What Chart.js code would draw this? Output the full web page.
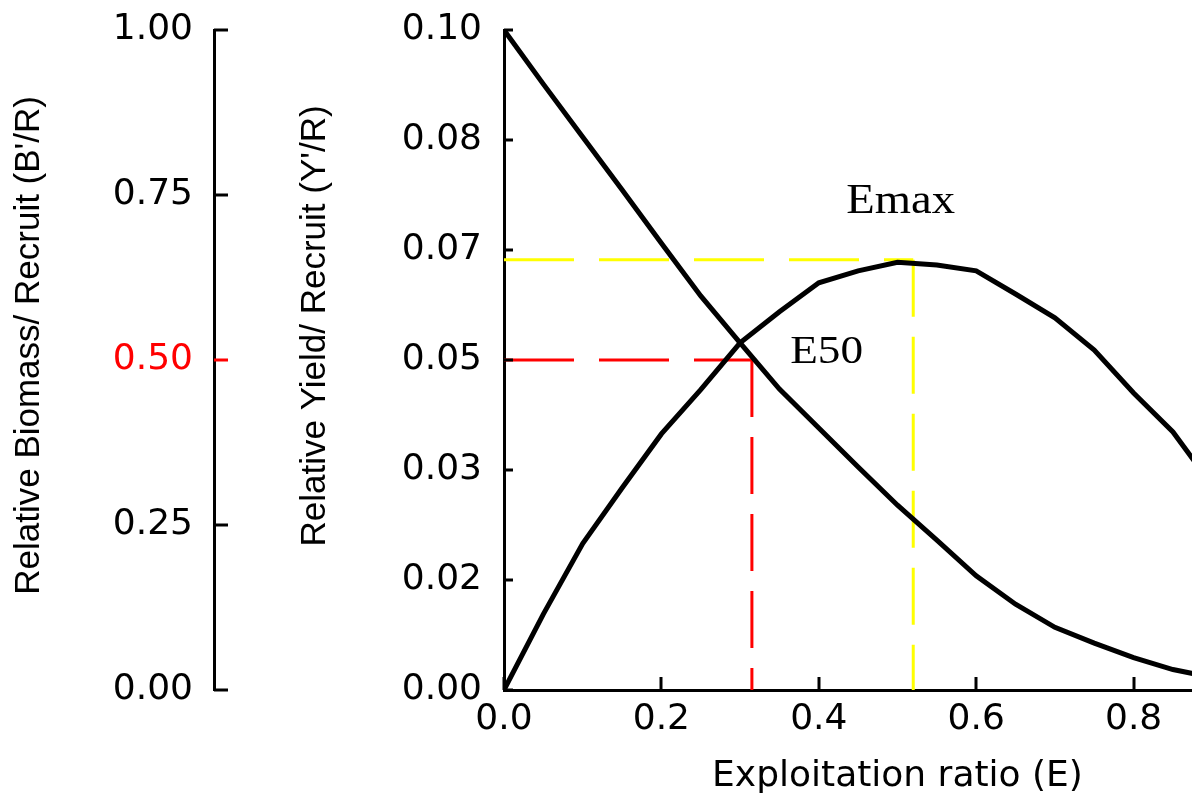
<!DOCTYPE html>
<html>
<head>
<meta charset="utf-8">
<script src="https://cdn.jsdelivr.net/npm/chart.js@4.4.1/dist/chart.umd.min.js"></script>
<style>
  html, body { margin: 0; padding: 0; background: #fff; overflow: hidden; }
  #wrap { width: 1321px; height: 796px; }
</style>
</head>
<body>
<div id="wrap"><canvas id="canvas-1"></canvas></div>
<script>
// exploitation ratio E and the two relative curves
const exploitation = [0.00, 0.05, 0.10, 0.15, 0.20, 0.25, 0.30, 0.35, 0.40, 0.45,
                      0.50, 0.55, 0.60, 0.65, 0.70, 0.75, 0.80, 0.85, 0.90];
const biomassPerRecruit = [1.000, 0.918, 0.838, 0.758, 0.677, 0.597, 0.526, 0.456, 0.397, 0.338,
                           0.280, 0.227, 0.173, 0.130, 0.095, 0.071, 0.049, 0.031, 0.019];
const yieldPerRecruit = [0.0000, 0.0115, 0.0222, 0.0306, 0.0388, 0.0455, 0.0526, 0.0573, 0.0617, 0.0635,
                         0.0648, 0.0644, 0.0635, 0.0600, 0.0564, 0.0515, 0.0450, 0.0391, 0.0310];

// reference points
const e50 = 0.315;      // E where B'/R = 0.5
const b50 = 0.5;
const emax = 0.52;      // E at max Y'/R
const yMax = 0.0652;

// tick values / labels
const xTicks = [0, 0.2, 0.4, 0.6, 0.8, 1.0];
const biomassTicks = [0, 0.25, 0.5, 0.75, 1.0];
const yieldTickValues = [0, 0.016667, 0.033333, 0.05, 0.066667, 0.083333, 0.1];
const yieldTickLabels = ['0.00', '0.02', '0.03', '0.05', '0.07', '0.08', '0.10'];

const pts = (ys) => exploitation.map((e, i) => ({ x: e, y: ys[i] }));

// text labels placed at data coordinates on the yield axis
const markerLabels = [
    { text: 'Emax', x: 0.435, y: 0.0723, size: 42, stretch: 1.11 },
    { text: 'E50', x: 0.3636, y: 0.0495, size: 39, stretch: 1.16 }
];

const labelPlugin = {
    id: 'markerLabels',
    afterDatasetsDraw(chart) {
        const ctx = chart.ctx;
        const xs = chart.scales.x, ys = chart.scales.yY;
        markerLabels.forEach(l => {
            ctx.save();
            ctx.translate(xs.getPixelForValue(l.x), ys.getPixelForValue(l.y));
            ctx.scale(l.stretch, 1);
            ctx.font = l.size + 'px "Liberation Serif", "Times New Roman", serif';
            ctx.fillStyle = '#000';
            ctx.textBaseline = 'alphabetic';
            ctx.textAlign = 'left';
            ctx.fillText(l.text, 0, 0);
            ctx.restore();
        });
    }
};

// tick marks pointing into the plot (Chart.js draws them outside)
const inwardTicks = {
    id: 'inwardTicks',
    afterDraw(chart) {
        const ctx = chart.ctx;
        const s = chart.scales;
        ctx.save();
        ctx.lineWidth = 3;
        biomassTicks.forEach(v => {
            const y = Math.round(s.yB.getPixelForValue(v));
            ctx.strokeStyle = v === 0.5 ? '#ff0000' : '#000';
            ctx.beginPath(); ctx.moveTo(s.yB.right, y); ctx.lineTo(s.yB.right + 14, y); ctx.stroke();
        });
        ctx.strokeStyle = '#000';
        yieldTickValues.forEach(v => {
            const y = Math.round(s.yY.getPixelForValue(v));
            ctx.beginPath(); ctx.moveTo(s.yY.right, y); ctx.lineTo(s.yY.right + 9, y); ctx.stroke();
        });
        xTicks.forEach(v => {
            const x = Math.round(s.x.getPixelForValue(v));
            ctx.beginPath(); ctx.moveTo(x, s.x.top); ctx.lineTo(x, s.x.top - 13); ctx.stroke();
        });
        ctx.restore();
    }
};

// keep the tick padding from pushing the chart area around
function noPad(axis) {
    axis.paddingTop = 0;
    axis.paddingBottom = 0;
    axis.paddingLeft = 0;
    axis.paddingRight = 0;
}

const tickFont = { family: 'DejaVu Sans', size: 36 };
const yTitleFont = { family: 'Liberation Sans', size: 35, lineHeight: 1.2 };

let chart = new Chart(document.getElementById('canvas-1').getContext('2d'), {
    type: 'line',
    data: {
        datasets: [
            { label: "B'/R", data: pts(biomassPerRecruit), yAxisID: 'yB',
              borderColor: '#000', borderWidth: 5, pointRadius: 0, tension: 0 },
            { label: "Y'/R", data: pts(yieldPerRecruit), yAxisID: 'yY',
              borderColor: '#000', borderWidth: 5, pointRadius: 0, tension: 0 },
            { label: 'E50 h', data: [{ x: 0, y: b50 }, { x: e50, y: b50 }], yAxisID: 'yB',
              borderColor: '#ff0000', borderWidth: 3, borderDash: [70, 25], pointRadius: 0 },
            { label: 'E50 v', data: [{ x: e50, y: b50 }, { x: e50, y: 0 }], yAxisID: 'yB',
              borderColor: '#ff0000', borderWidth: 3, borderDash: [57, 20], pointRadius: 0 },
            { label: 'Emax h', data: [{ x: 0, y: yMax }, { x: emax, y: yMax }], yAxisID: 'yY',
              borderColor: '#ffff00', borderWidth: 3, borderDash: [70, 25], pointRadius: 0 },
            { label: 'Emax v', data: [{ x: emax, y: yMax }, { x: emax, y: 0 }], yAxisID: 'yY',
              borderColor: '#ffff00', borderWidth: 3, borderDash: [57, 20], pointRadius: 0 }
        ]
    },
    options: {
        responsive: true,
        maintainAspectRatio: false,
        animation: false,
        layout: { padding: { top: 30, right: 30, bottom: 0, left: 0 } },
        plugins: { legend: { display: false }, tooltip: { enabled: false } },
        scales: {
            x: {
                type: 'linear', position: 'bottom', min: 0, max: 1,
                afterBuildTicks: (axis) => { axis.ticks = xTicks.map(v => ({ value: v })); },
                afterFit: (axis) => { axis.height = 106; noPad(axis); },
                ticks: { font: tickFont, color: '#000', padding: 8, maxRotation: 0,
                         callback: (v) => Number(v).toFixed(1) },
                grid: { drawOnChartArea: false, drawTicks: false },
                border: { display: true, color: '#000', width: 3 },
                title: { display: true, text: 'Exploitation ratio (E)', color: '#000',
                         font: { family: 'DejaVu Sans', size: 36, lineHeight: 1 },
                         padding: { top: 0, bottom: 1 } }
            },
            yB: {
                type: 'linear', position: 'left', weight: 10, min: 0, max: 1,
                afterBuildTicks: (axis) => { axis.ticks = biomassTicks.map(v => ({ value: v })); },
                afterFit: (axis) => { axis.width = 214; noPad(axis); },
                ticks: { font: tickFont, padding: 21,
                         color: (c) => c.tick && c.tick.value === 0.5 ? '#ff0000' : '#000',
                         callback: (v) => Number(v).toFixed(2) },
                grid: { drawOnChartArea: false, drawTicks: false },
                border: { display: true, color: '#000', width: 3 },
                title: { display: true, text: "   Relative Biomass/ Recruit (B'/R)", color: '#000',
                         font: yTitleFont, padding: { top: 8, bottom: 0 } }
            },
            yY: {
                type: 'linear', position: 'left', weight: 0, min: 0, max: 0.1,
                afterBuildTicks: (axis) => { axis.ticks = yieldTickValues.map(v => ({ value: v })); },
                afterFit: (axis) => { axis.width = 290; noPad(axis); },
                ticks: { font: tickFont, color: '#000', padding: 22,
                         callback: (v, i) => yieldTickLabels[i] },
                grid: { drawOnChartArea: false, drawTicks: false },
                border: { display: true, color: '#000', width: 3 },
                title: { display: true, text: "       Relative Yield/ Recruit (Y'/R)", color: '#000',
                         font: yTitleFont, padding: { top: 80, bottom: 0 } }
            }
        }
    },
    plugins: [labelPlugin, inwardTicks]
});
</script>
</body>
</html>
